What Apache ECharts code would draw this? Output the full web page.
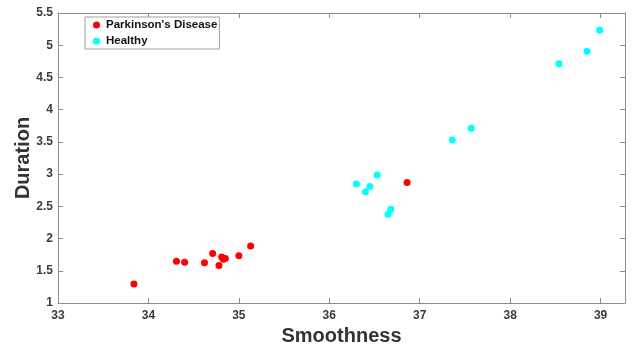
<!DOCTYPE html>
<html>
<head>
<meta charset="utf-8">
<script src="https://cdn.jsdelivr.net/npm/echarts@6/dist/echarts.min.js"></script>
<style>
  html, body { margin: 0; padding: 0; background: #fff; }
  #chart { width: 632px; height: 346px; }
</style>
</head>
<body>
<div id="chart"></div>
<script>
// smoothness (x) and duration (y) per subject
var pdSmooth = [33.84, 34.31, 34.40, 34.62, 34.71, 34.78, 34.81, 34.83, 34.85, 35.00, 35.13, 36.86];
var pdDuration = [1.295, 1.647, 1.632, 1.626, 1.77, 1.58, 1.714, 1.68, 1.69, 1.734, 1.885, 2.868];

var healthySmooth = [36.30, 36.53, 36.45, 36.40, 36.68, 36.65, 37.36, 37.57, 38.54, 38.85, 38.99];
var healthyDuration = [2.848, 2.988, 2.806, 2.728, 2.455, 2.377, 3.531, 3.713, 4.711, 4.908, 5.234];

var seriesNames = ["Parkinson's Disease", 'Healthy'];
var xLimits = [33, 39.27];
var yLimits = [1, 5.5];

function pairs(xs, ys) {
    return xs.map(function (x, i) { return [x, ys[i]]; });
}

var font = 'Liberation Sans, Arial, sans-serif';
var axisGray = '#8c8c8c';
var labelColor = '#3a3a3a';

function tickFmt(v) {
    // hide the extra label ECharts adds at the axis end
    return Math.abs(v * 2 - Math.round(v * 2)) < 1e-6 ? String(v) : '';
}

var chart = echarts.init(document.getElementById('chart'));
chart.setOption({
    animation: false,
    textStyle: { fontFamily: font },
    grid: { left: 58, right: 7, top: 13, bottom: 43, outerBoundsMode: 'none', containLabel: false },
    legend: {
        left: 85, top: 17,
        orient: 'vertical',
        data: seriesNames,
        icon: 'circle',
        itemWidth: 7, itemHeight: 7,
        itemGap: 2,
        itemStyle: { borderWidth: 0 },
        backgroundColor: '#fff',
        borderColor: '#a0a0a0', borderWidth: 1,
        padding: [1, 2, 1, 8],
        textStyle: { fontFamily: font, fontWeight: 'bold', fontSize: 11.5, color: '#111', lineHeight: 14, padding: [0, 0, 0, 1] }
    },
    xAxis: [{
        type: 'value', min: xLimits[0], max: xLimits[1], interval: 1,
        name: 'Smoothness', nameLocation: 'middle', nameGap: 21,
        nameTextStyle: { fontFamily: font, fontWeight: 'bold', fontSize: 20, color: '#333' },
        axisLine: { onZero: false, lineStyle: { color: axisGray } },
        axisTick: { inside: true, length: 5, lineStyle: { color: axisGray } },
        axisLabel: { margin: 7, fontFamily: font, fontWeight: 'bold', fontSize: 12, color: labelColor, formatter: tickFmt },
        splitLine: { show: false }
    }, {
        type: 'value', position: 'top', min: xLimits[0], max: xLimits[1], interval: 1,
        axisLine: { onZero: false, lineStyle: { color: axisGray } },
        axisTick: { inside: true, length: 5, lineStyle: { color: axisGray } },
        axisLabel: { show: false },
        splitLine: { show: false }
    }],
    yAxis: [{
        type: 'value', min: yLimits[0], max: yLimits[1], interval: 0.5,
        name: 'Duration', nameLocation: 'middle', nameGap: 25, nameMoveOverlap: false,
        nameTextStyle: { fontFamily: font, fontWeight: 'bold', fontSize: 20, color: '#333' },
        axisLine: { show: true, onZero: false, lineStyle: { color: axisGray } },
        axisTick: { show: true, inside: true, length: 5, lineStyle: { color: axisGray } },
        axisLabel: { margin: 5, fontFamily: font, fontWeight: 'bold', fontSize: 12, color: labelColor },
        splitLine: { show: false }
    }, {
        type: 'value', position: 'right', min: yLimits[0], max: yLimits[1], interval: 0.5,
        axisLine: { show: true, onZero: false, lineStyle: { color: axisGray } },
        axisTick: { show: true, inside: true, length: 5, lineStyle: { color: axisGray } },
        axisLabel: { show: false },
        splitLine: { show: false }
    }],
    series: [{
        name: seriesNames[0], type: 'scatter',
        symbolSize: 7,
        itemStyle: { color: '#ff0000', opacity: 1 },
        data: pairs(pdSmooth, pdDuration)
    }, {
        name: seriesNames[1], type: 'scatter',
        symbolSize: 7,
        itemStyle: { color: '#00ffff', opacity: 1 },
        data: pairs(healthySmooth, healthyDuration)
    }]
});
</script>
</body>
</html>
